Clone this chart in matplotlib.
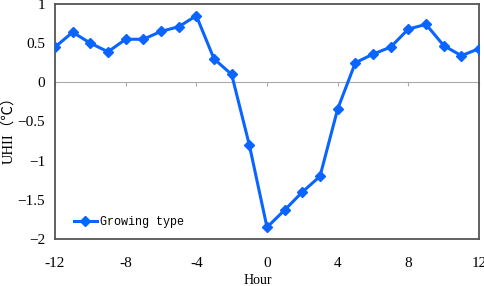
import matplotlib.pyplot as plt

hours = list(range(-12, 13))
uhii = [0.45, 0.64, 0.50, 0.39, 0.55, 0.55, 0.65, 0.71, 0.85, 0.30, 0.10, -0.80,
        -1.85, -1.63, -1.40, -1.20, -0.34, 0.25, 0.36, 0.45, 0.68, 0.74, 0.47, 0.34, 0.43]
series_name = "Growing type"
x_ticks = [-12, -8, -4, 0, 4, 8, 12]
y_ticks = [-2, -1.5, -1, -0.5, 0, 0.5, 1]

serif = ["Liberation Serif", "Noto Sans CJK SC"]

fig = plt.figure(figsize=(4.84, 2.86), dpi=100)
ax = fig.add_axes([55 / 484, 1 - 239 / 286, 424 / 484, 235 / 286])

ax.plot(hours, uhii, color="#0a64ff", lw=2.2, marker="D", ms=5, label=series_name, zorder=3)

ax.set_xlim(-12, 12)
ax.set_ylim(-2, 1)
ax.set_xticks(x_ticks)
ax.set_yticks(y_ticks)
ax.set_xticklabels([str(t) for t in x_ticks], family=serif, fontsize=11)
ax.set_yticklabels([f"{t:g}".replace("-", "\u2212") for t in y_ticks], family=serif, fontsize=11)
ax.tick_params(axis="x", length=0, pad=13)
ax.tick_params(axis="y", length=0, pad=7)

for s in ax.spines.values():
    s.set_color("#555555")
    s.set_linewidth(1.3)

# zero line with small upward ticks
sec = ax.secondary_xaxis(2 / 3)
sec.set_xticks(x_ticks)
sec.tick_params(axis="x", direction="in", length=3, color="#aaaaaa", width=0.8,
                labelbottom=False, labeltop=False)
for s in sec.spines.values():
    s.set_color("#aaaaaa")
    s.set_linewidth(0.8)

ax.set_ylabel("UHII（℃）", family=serif, fontsize=10.5)
ax.yaxis.set_label_coords(-40 / 424, 0.48)
fig.text(258 / 484, 1 - 280 / 286, "Hour", family=serif, fontsize=10, ha="center", va="center")

ax.legend(loc="lower left", frameon=False, handlelength=1.9, handletextpad=0.3,
          bbox_to_anchor=(0.02, 0.0), prop={"family": "Liberation Mono", "size": 8.5})

fig.savefig("out.png", dpi=100)
